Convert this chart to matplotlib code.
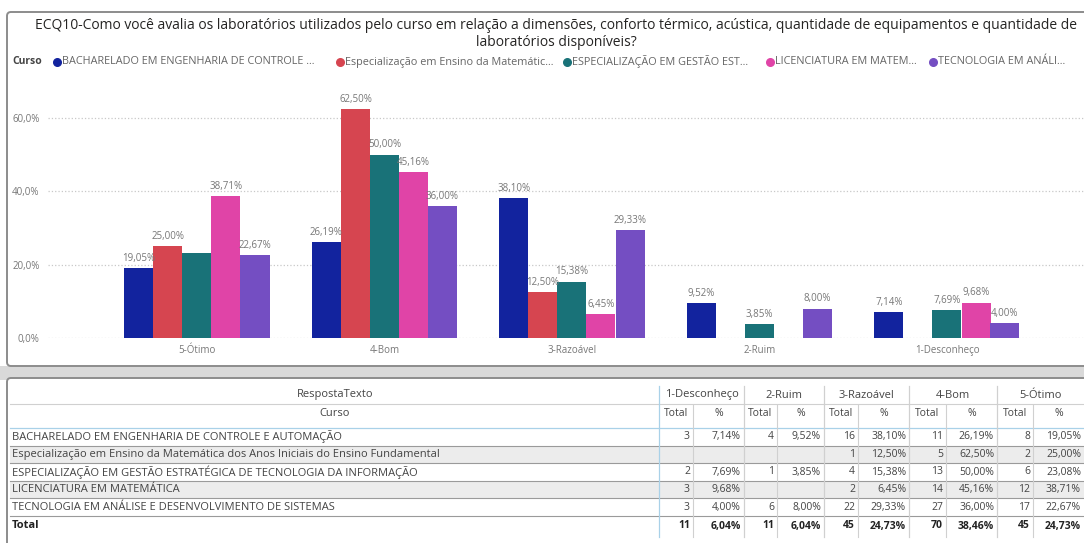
import numpy as np
import matplotlib
matplotlib.use("Agg")
import matplotlib.pyplot as plt
from matplotlib.patches import FancyBboxPatch, Rectangle

plt.rcParams['font.family'] = ['Open Sans', 'DejaVu Sans']

# ---- data ----
answers = ['1-Desconheço', '2-Ruim', '3-Razoável', '4-Bom', '5-Ótimo']
courses = ['BACHARELADO EM ENGENHARIA DE CONTROLE E AUTOMAÇÃO',
           'Especialização em Ensino da Matemática dos Anos Iniciais do Ensino Fundamental',
           'ESPECIALIZAÇÃO EM GESTÃO ESTRATÉGICA DE TECNOLOGIA DA INFORMAÇÃO',
           'LICENCIATURA EM MATEMÁTICA',
           'TECNOLOGIA EM ANÁLISE E DESENVOLVIMENTO DE SISTEMAS']
legend_labels = ['BACHARELADO EM ENGENHARIA DE CONTROLE ...',
                 'Especialização em Ensino da Matemátic...',
                 'ESPECIALIZAÇÃO EM GESTÃO EST...',
                 'LICENCIATURA EM MATEM...',
                 'TECNOLOGIA EM ANÁLI...']
colors = ['#12239E', '#D64550', '#197278', '#E044A7', '#744EC2']

# counts and percentages per course, in answer order (1-Desconheço .. 5-Ótimo)
counts_bach = [3, 4, 16, 11, 8]
counts_esp_mat = [None, None, 1, 5, 2]
counts_esp_ti = [2, 1, 4, 13, 6]
counts_lic = [3, None, 2, 14, 12]
counts_tads = [3, 6, 22, 27, 17]

pct_bach = [7.14, 9.52, 38.10, 26.19, 19.05]
pct_esp_mat = [None, None, 12.50, 62.50, 25.00]
pct_esp_ti = [7.69, 3.85, 15.38, 50.00, 23.08]
pct_lic = [9.68, None, 6.45, 45.16, 38.71]
pct_tads = [4.00, 8.00, 29.33, 36.00, 22.67]

total_counts = [11, 11, 45, 70, 45]
total_pct = [6.04, 6.04, 24.73, 38.46, 24.73]

counts = [counts_bach, counts_esp_mat, counts_esp_ti, counts_lic, counts_tads]
pcts = [pct_bach, pct_esp_mat, pct_esp_ti, pct_lic, pct_tads]

# label that Power BI hid in the chart (overlap)
hidden_labels = {(2, '5-Ótimo')}

title = ('ECQ10-Como você avalia os laboratórios utilizados pelo curso em relação a dimensões, '
         'conforto térmico, acústica, quantidade de equipamentos e quantidade de\n'
         'laboratórios disponíveis?')


def pct_txt(v, dec=2):
    return f'{v:.{dec}f}%'.replace('.', ',')


W, H = 1084, 543
fig = plt.figure(figsize=(W / 100, H / 100), dpi=100)
fig.patch.set_facecolor('white')

# pixel overlay for panels, legend and table
bg = fig.add_axes([0, 0, 1, 1], zorder=0)
bg.set_xlim(0, W)
bg.set_ylim(H, 0)
bg.axis('off')

# panel shadows / backgrounds
bg.add_patch(Rectangle((0, 366), W, 14, color='#d9d9d9', lw=0))
for (y0, y1) in [(12, 366), (378, 560)]:
    bg.add_patch(FancyBboxPatch((7, y0), W, y1 - y0, boxstyle='round,pad=0,rounding_size=4',
                                fc='white', ec='#8c8c8c', lw=1.4))

bg.text(556, 18, title, ha='center', va='top', fontsize=10, color='#252423',
        linespacing=1.15)

# legend
bg.text(12, 62, 'Curso', ha='left', va='center', fontsize=7.5, fontweight='bold', color='#444')
leg_x = [57, 340, 567, 770, 933]
for lx, lab, c in zip(leg_x, legend_labels, colors):
    bg.scatter([lx], [62], s=30, color=c, zorder=3)
    bg.text(lx + 5, 62, lab, ha='left', va='center', fontsize=7.8, color='#666')

# ---- bar chart ----
c0, step = 197, 187.5
ax = fig.add_axes([48 / W, 1 - 338 / H, (W - 48) / W, (338 - 100) / H], zorder=2)
ax.patch.set_alpha(0)
chart_cats = answers[::-1]
xpos = np.arange(len(chart_cats))
bw = 29 / step
for i, (vals, c) in enumerate(zip(pcts, colors)):
    vals_r = vals[::-1]
    for j, v in enumerate(vals_r):
        if v is None:
            continue
        x = xpos[j] + (i - 2) * bw
        ax.bar(x, v, width=bw, color=c, lw=0)
        if (i, chart_cats[j]) in hidden_labels:
            continue
        ax.annotate(pct_txt(v), (x, v), xytext=(0, 3), textcoords='offset points',
                    ha='center', va='bottom', fontsize=7, color='#777')

ax.set_xlim((48 - c0) / step, (W - c0) / step)
ax.set_ylim(0, (338 - 100) / (220 / 60))
ax.set_yticks([0, 20, 40, 60])
ax.set_yticklabels([pct_txt(t, 1) for t in [0, 20, 40, 60]])
ax.set_xticks(xpos)
ax.set_xticklabels(chart_cats)
ax.tick_params(length=0, labelsize=7, colors='#777')
ax.tick_params(axis='y', pad=6)
ax.tick_params(axis='x', pad=5)
ax.yaxis.grid(True, linestyle=':', color='#c8c8c8', lw=0.9)
ax.set_axisbelow(True)
for s in ax.spines.values():
    s.set_visible(False)

# ---- table ----
col_x = [659, 693, 744, 777, 824, 858, 909, 946, 997, 1033, 1084]
row_top = 428
row_h = 17.6
txt = '#444'
fs = 8
fn = 7.5

for r in range(len(courses)):
    y0 = row_top + r * row_h
    if r % 2 == 1:
        bg.add_patch(Rectangle((10, y0), W - 10, row_h, color='#ececec', lw=0))
    bg.plot([10, W], [y0 + row_h, y0 + row_h], color='#9a9a9a', lw=0.8)

bg.plot([10, W], [404, 404], color='#d0d0d0', lw=0.8)
bg.plot([10, W], [row_top, row_top], color='#a9d1e8', lw=0.9)

bg.text(335, 395, 'RespostaTexto', ha='center', va='center', fontsize=fs, color=txt)
bg.text(335, 413, 'Curso', ha='center', va='center', fontsize=fs, color=txt)

for g, ans in enumerate(answers):
    xl, xm, xr = col_x[2 * g], col_x[2 * g + 1], col_x[2 * g + 2]
    bg.text((xl + xr) / 2, 395, ans, ha='center', va='center', fontsize=fs, color=txt)
    bg.text((xl + xm) / 2, 413, 'Total', ha='center', va='center', fontsize=fn, color=txt)
    bg.text((xm + xr) / 2, 413, '%', ha='center', va='center', fontsize=fn, color=txt)
    lc = '#a9d1e8' if g == 0 else '#d0d0d0'
    bg.plot([xl, xl], [386, 537], color=lc, lw=0.9)
    bg.plot([xm, xm], [405, 537], color='#d0d0d0', lw=0.8)

for r, (name, cnt, pc) in enumerate(zip(courses, counts, pcts)):
    yc = row_top + r * row_h + row_h / 2
    bg.text(12, yc, name, ha='left', va='center', fontsize=fs, color=txt)
    for g in range(len(answers)):
        xm, xr = col_x[2 * g + 1], col_x[2 * g + 2]
        if cnt[g] is not None:
            bg.text(xm - 3, yc, str(cnt[g]), ha='right', va='center', fontsize=fn, color=txt)
        if pc[g] is not None:
            bg.text(xr - 3, yc, pct_txt(pc[g]), ha='right', va='center', fontsize=fn, color=txt)

yt = row_top + len(courses) * row_h + 10
bg.text(12, yt, 'Total', ha='left', va='center', fontsize=fs, color='#222', fontweight='bold')
for g in range(len(answers)):
    xm, xr = col_x[2 * g + 1], col_x[2 * g + 2]
    bg.text(xm - 3, yt, str(total_counts[g]), ha='right', va='center', fontsize=fn,
            color='#222', fontweight='bold')
    bg.text(xr - 3, yt, pct_txt(total_pct[g]), ha='right', va='center', fontsize=fn,
            color='#222', fontweight='bold')

fig.savefig('out.png', dpi=100)
